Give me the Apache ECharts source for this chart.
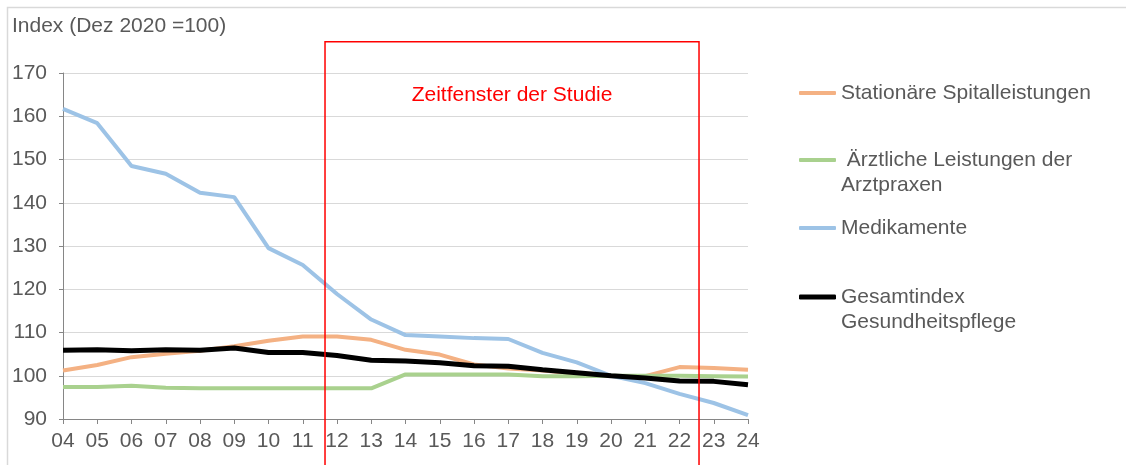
<!DOCTYPE html>
<html>
<head>
<meta charset="utf-8">
<script src="https://cdn.jsdelivr.net/npm/echarts@6/dist/echarts.min.js"></script>
<style>html,body{margin:0;padding:0;background:#fff;}#c{width:1126px;height:465px;}</style>
</head>
<body>
<div id="c"></div>
<script>
const categories = ['04','05','06','07','08','09','10','11','12','13','14','15','16','17','18','19','20','21','22','23','24'];
const yTicks = [90, 100, 110, 120, 130, 140, 150, 160, 170];

const stationaer = [101.2,102.5,104.3,105.1,105.8,106.8,108.1,109.1,109.1,108.3,106.0,104.9,102.6,101.7,101.2,100.5,100.0,99.9,102.0,101.8,101.4];
const aerztlich  = [97.4,97.4,97.7,97.2,97.1,97.1,97.1,97.1,97.1,97.1,100.3,100.3,100.3,100.3,99.9,99.9,100.0,100.0,100.0,99.9,99.8];
const medikamente= [161.7,158.4,148.5,146.7,142.3,141.3,129.5,125.6,118.9,113.0,109.4,109.1,108.7,108.5,105.3,103.1,100.0,98.3,95.8,93.7,90.9];
const gesamt     = [105.9,106.0,105.8,106.0,105.9,106.4,105.4,105.4,104.7,103.6,103.4,103.0,102.3,102.2,101.4,100.7,100.0,99.5,98.8,98.7,97.9];

const seriesNames = ['Stationäre Spitalleistungen', ' Ärztliche Leistungen der Arztpraxen', 'Medikamente', 'Gesamtindex Gesundheitspflege'];
const legendLabels = ['Stationäre Spitalleistungen', '\n Ärztliche Leistungen der\nArztpraxen', 'Medikamente', '\nGesamtindex\nGesundheitspflege'];

// study window annotation (fractional category positions / value bounds)
const windowStart = 7.65, windowEnd = 18.57, windowTop = 177.2, windowBottom = 78;

const font = 'Liberation Sans, Arial, sans-serif';
const textGray = '#595959';
const fs = 21;

const chart = echarts.init(document.getElementById('c'));
const colors = ['#F4B183', '#A9D18E', '#9DC3E6', '#000000'];
const widths = [4, 4, 4, 5];
const dataSets = [stationaer, aerztlich, medikamente, gesamt];

const lh = 25;
const legendFirstLine = [93, 160, 228, 297];
const legendLines = [1, 3, 1, 3];
const legends = seriesNames.map((n, i) => ({
  data: [n],
  left: 799,
  top: legendFirstLine[i] - lh * legendLines[i] / 2,
  orient: 'vertical',
  padding: 0,
  icon: 'roundRect',
  itemWidth: 37,
  itemHeight: widths[i],
  itemGap: 0,
  selectedMode: false,
  formatter: () => legendLabels[i],
  textStyle: { fontFamily: font, fontSize: fs, color: textGray, lineHeight: lh }
}));

chart.setOption({
  animation: false,
  backgroundColor: '#fff',
  title: {
    text: 'Index (Dez 2020 =100)',
    left: 12, top: 16,
    padding: 0,
    textStyle: { fontFamily: font, fontSize: fs, fontWeight: 'normal', color: textGray }
  },
  legend: legends,
  grid: { left: 63, right: 378, top: 73, bottom: 46, containLabel: false },
  xAxis: {
    type: 'category',
    data: categories,
    boundaryGap: false,
    axisLine: { lineStyle: { color: '#868686', width: 1 } },
    axisTick: { show: true, length: 5, lineStyle: { color: '#868686' }, interval: 0 },
    axisLabel: { fontFamily: font, fontSize: fs, color: textGray, margin: 12, interval: 0 },
    splitLine: { show: false }
  },
  yAxis: {
    type: 'value',
    min: yTicks[0], max: yTicks[yTicks.length - 1], interval: 10,
    axisLine: { show: true, lineStyle: { color: '#868686', width: 1 } },
    axisTick: { show: true, length: 4, lineStyle: { color: '#868686' } },
    axisLabel: { fontFamily: font, fontSize: fs, color: textGray, margin: 16 },
    splitLine: { lineStyle: { color: '#d9d9d9', width: 1.2 } }
  },
  series: seriesNames.map((n, i) => ({
    name: n,
    type: 'line',
    data: dataSets[i],
    symbol: 'none',
    showSymbol: false,
    z: i === 3 ? 5 : 3,
    color: colors[i],
    itemStyle: { color: colors[i] },
    lineStyle: { color: colors[i], width: widths[i] }
  }))
});

function frac(pos) {
  const i = Math.floor(pos), f = pos - i;
  const a = chart.convertToPixel({ xAxisIndex: 0 }, categories[i]);
  const b = chart.convertToPixel({ xAxisIndex: 0 }, categories[i + 1]);
  return a + (b - a) * f;
}
const x1 = frac(windowStart), x2 = frac(windowEnd);
const y1 = chart.convertToPixel({ yAxisIndex: 0 }, windowTop);
const y2 = chart.convertToPixel({ yAxisIndex: 0 }, windowBottom);

chart.setOption({
  graphic: [
    { type: 'rect', shape: { x: 7.5, y: 7.5, width: 1140, height: 480 }, style: { fill: 'none', stroke: '#d9d9d9', lineWidth: 1.5 }, silent: true, z: 0 },
    { type: 'rect', shape: { x: x1, y: y1, width: x2 - x1, height: y2 - y1 }, style: { fill: 'none', stroke: '#ff0000', lineWidth: 1.5 }, silent: true, z: 10 },
    { type: 'text', x: (x1 + x2) / 2, y: 95, style: { text: 'Zeitfenster der Studie', fill: '#ff0000', font: fs + 'px ' + font, align: 'center', verticalAlign: 'middle' }, silent: true, z: 10 }
  ]
});
</script>
</body>
</html>
